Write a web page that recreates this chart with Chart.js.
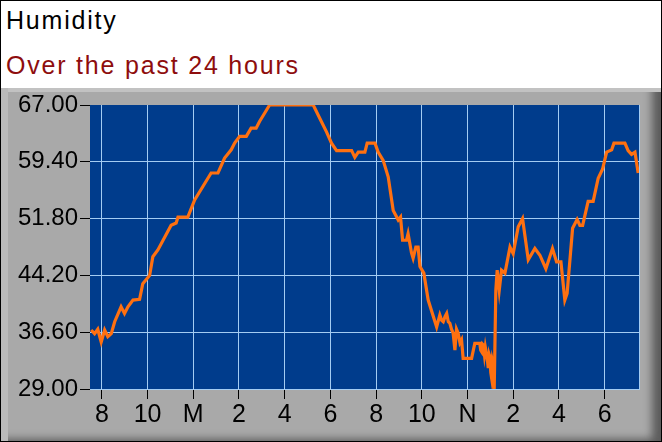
<!DOCTYPE html>
<html>
<head>
<meta charset="utf-8">
<script src="https://cdn.jsdelivr.net/npm/chart.js@4.4.0/dist/chart.umd.min.js"></script>
<style>
    body { margin: 0; background: #fff; }
    #caixa { position: relative; width: 660px; height: 440px; border: 1px solid #000; overflow: hidden; }
    .titulo { position: absolute; left: 5px; font-family: "Liberation Sans", Arial, sans-serif; font-size: 25px; line-height: 25px; letter-spacing: 1.8px; white-space: nowrap; }
    #painel {
        position: absolute; left: 0; top: 87px; width: 660px; height: 353px;
        background: #a9a9a9;
        box-shadow: inset 7px 0 0 #bababa, inset 0 4px 0 #c2c2c2, inset -13px -6px 9px -4px #5c5c5c;
    }
    #grafico { position: absolute; left: -1px; top: 0; }
</style>
</head>
<body>
<div id="caixa">
    <div class="titulo" style="top:7px;color:#000">Humidity</div>
    <div class="titulo" style="top:52px;color:#8e0d0d">Over the past 24 hours</div>
    <div id="painel">
        <canvas id="grafico" width="662" height="354"></canvas>
    </div>
</div>
<script>
// horas contadas a partir da meia-noite do primeiro dia (24 = meia-noite, 36 = meio-dia)
const horas = [19.53, 19.68, 19.82, 19.97, 20.12, 20.26, 20.41, 20.56, 20.84, 20.99, 21.14, 21.36, 21.65, 21.79,
    22.09, 22.23, 22.45, 23.03, 23.25, 23.33, 23.76, 24.06, 24.42, 24.78, 25.08, 25.37, 25.66, 25.81, 26.03,
    26.32, 26.53, 26.75, 26.90, 27.12, 27.34, 29.25, 29.54, 29.83, 30.05, 30.27, 30.93, 31.07, 31.22, 31.51,
    31.61, 31.95, 32.09, 32.31, 32.53, 32.75, 32.97, 33.07, 33.16, 33.33, 33.40, 33.55, 33.62, 33.74, 33.84,
    33.92, 34.09, 34.28, 34.65, 34.79, 34.87, 34.94, 35.02, 35.09, 35.16, 35.23, 35.30, 35.37, 35.45, 35.52,
    35.59, 35.67, 35.74, 35.81, 36.18, 36.32, 36.54, 36.58, 36.62, 36.66, 36.69, 36.74, 36.78, 36.84, 36.88,
    36.91, 36.95, 36.98, 37.02, 37.05, 37.09, 37.12, 37.17, 37.24, 37.30, 37.39, 37.49, 37.64, 37.86, 38.00,
    38.22, 38.41, 38.66, 38.95, 39.17, 39.43, 39.72, 39.90, 40.09, 40.26, 40.36, 40.60, 40.80, 40.92, 41.04,
    41.28, 41.50, 41.72, 41.91, 42.09, 42.31, 42.41, 42.89, 43.03, 43.18, 43.33, 43.47]
const umidade = [36.9, 36.4, 37.0, 35.3, 36.9, 36.0, 36.4, 38.0, 40.0, 39.1, 40.0, 40.9, 41.0, 43.1,
    44.2, 46.7, 47.6, 50.9, 51.2, 52.0, 52.0, 54.3, 56.1, 57.9, 57.9, 59.9, 61.0, 61.9, 62.8,
    62.8, 63.9, 63.9, 64.8, 65.9, 67.0, 67.0, 65.2, 63.4, 61.9, 60.9, 60.9, 60.0, 60.7, 60.7,
    61.9, 61.9, 60.7, 59.6, 57.4, 52.9, 51.6, 52.0, 48.9, 48.9, 49.8, 47.2, 46.5, 48.0, 48.0,
    45.4, 44.5, 40.9, 37.3, 38.9, 38.2, 38.0, 38.7, 39.1, 38.0, 37.8, 37.0, 36.5, 34.2, 37.0,
    36.5, 35.2, 35.6, 33.1, 33.1, 35.1, 35.1, 34.2, 34.0, 35.0, 34.9, 33.6, 34.6, 33.5, 32.6,
    31.8, 33.6, 33.3, 31.2, 30.6, 32.8, 32.4, 29.0, 42.2, 44.9, 42.2, 44.9, 44.5, 48.0, 47.1,
    50.7, 51.8, 46.3, 47.8, 46.9, 45.1, 47.8, 46.0, 46.0, 40.9, 41.8, 50.5, 51.7, 50.9, 50.9,
    54.1, 54.1, 57.2, 58.4, 60.7, 61.0, 61.9, 61.9, 60.9, 60.4, 60.7, 57.9]

const ticksX = [20, 22, 24, 26, 28, 30, 32, 34, 36, 38, 40, 42]
const rotulosX = ['8', '10', 'M', '2', '4', '6', '8', '10', 'N', '2', '4', '6']
const ticksY = [29, 36.6, 44.2, 51.8, 59.4, 67]

const azulFundo = '#003c8c'
const azulGrade = '#a4ccf2'

// pinta o fundo azul e a borda da direita
const fundoPlot = {
    id: 'fundoPlot',
    beforeDraw(chart) {
        const a = chart.chartArea
        const ctx = chart.ctx
        ctx.save()
        ctx.fillStyle = azulFundo
        ctx.fillRect(a.left, a.top, a.right - a.left, a.bottom - a.top)
        ctx.restore()
    },
    afterDatasetsDraw(chart) {
        const a = chart.chartArea
        const ctx = chart.ctx
        ctx.save()
        ctx.strokeStyle = azulGrade
        ctx.lineWidth = 1
        ctx.beginPath()
        ctx.moveTo(a.right - 0.5, a.top)
        ctx.lineTo(a.right - 0.5, a.bottom)
        ctx.stroke()
        ctx.restore()
    }
}

const pontos = horas.map((h, i) => ({ x: h, y: umidade[i] }))

new Chart(document.getElementById('grafico'), {
    type: 'line',
    data: {
        datasets: [{
            data: pontos,
            borderColor: '#ff7010',
            borderWidth: 3.2,
            pointRadius: 0,
            tension: 0
        }]
    },
    options: {
        responsive: false,
        animation: false,
        devicePixelRatio: 1,
        layout: { padding: { top: 17, right: 22, left: 0, bottom: 0 } },
        plugins: { legend: { display: false }, tooltip: { enabled: false } },
        scales: {
            x: {
                type: 'linear',
                min: 19.48,
                max: 43.55,
                afterBuildTicks: s => { s.ticks = ticksX.map(v => ({ value: v })) },
                afterFit: s => { s.height = 53 },
                ticks: {
                    color: '#000',
                    font: { family: 'Liberation Sans', size: 25 },
                    padding: 1,
                    maxRotation: 0,
                    autoSkip: false,
                    callback: v => rotulosX[ticksX.indexOf(v)]
                },
                grid: { color: azulGrade, tickColor: '#000', tickLength: 10, lineWidth: 1 },
                border: { display: false }
            },
            y: {
                min: 29,
                max: 67,
                afterBuildTicks: s => { s.ticks = ticksY.map(v => ({ value: v })) },
                afterFit: s => { s.width = 90 },
                ticks: {
                    color: '#000',
                    font: { family: 'Liberation Sans', size: 24 },
                    padding: 2,
                    callback: v => v.toFixed(2)
                },
                grid: {
                    color: c => (c.tick && c.tick.value === 67) ? 'rgba(0,0,0,0)' : azulGrade,
                    tickColor: '#000',
                    tickLength: 10,
                    lineWidth: 1
                },
                border: { display: false }
            }
        }
    },
    plugins: [fundoPlot]
})
</script>
</body>
</html>
